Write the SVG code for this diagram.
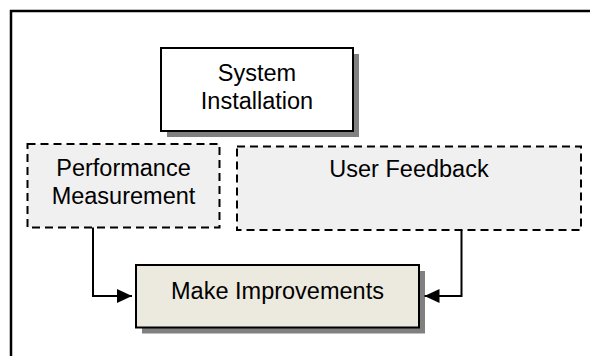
<svg xmlns="http://www.w3.org/2000/svg" width="590" height="356" viewBox="0 0 590 356">
  <defs>
    <style>
      .label { font-family: "Liberation Sans", Arial, sans-serif; font-size: 23.5px; fill: #000; text-anchor: middle; }
      .solid { stroke: #000; stroke-width: 2; }
      .dashed { fill: #f0f0f0; stroke: #000; stroke-width: 2; stroke-dasharray: 8 5; }
      .shadow { fill: #808080; }
      .wire { fill: none; stroke: #000; stroke-width: 2; }
    </style>
    <marker id="arrow" viewBox="0 0 15 14" refX="15" refY="7" markerWidth="15" markerHeight="14" markerUnits="userSpaceOnUse" orient="auto">
      <path d="M0,0 L15,7 L0,14 Z" fill="#000"/>
    </marker>
  </defs>

  <rect width="590" height="356" fill="#fff"/>
  <!-- outer frame, open to the right and bottom -->
  <rect x="11" y="11" width="620" height="400" fill="none" stroke="#000" stroke-width="2.5"/>

  <g id="system-installation">
    <rect class="shadow" x="167" y="54" width="192" height="83"/>
    <rect class="solid" x="161" y="48" width="192" height="83" fill="#fff"/>
    <text class="label" x="257" y="81">System</text>
    <text class="label" x="257" y="108.5">Installation</text>
  </g>

  <g id="performance-measurement">
    <rect class="dashed" x="27.5" y="144" width="192" height="83.5"/>
    <text class="label" x="123.5" y="176">Performance</text>
    <text class="label" x="123.5" y="204">Measurement</text>
  </g>

  <g id="user-feedback">
    <rect class="dashed" x="237" y="146.5" width="344" height="83.5"/>
    <text class="label" x="409" y="177">User Feedback</text>
  </g>

  <g id="make-improvements">
    <rect class="shadow" x="142" y="271" width="283" height="62.5"/>
    <rect class="solid" x="136" y="265" width="283" height="62.5" fill="#ece9df"/>
    <text class="label" x="277.5" y="298.5">Make Improvements</text>
  </g>

  <g id="connectors">
    <path class="wire" d="M93,227.5 V296 H132" marker-end="url(#arrow)"/>
    <path class="wire" d="M461.5,230 V296 H424.5" marker-end="url(#arrow)"/>
  </g>
</svg>
